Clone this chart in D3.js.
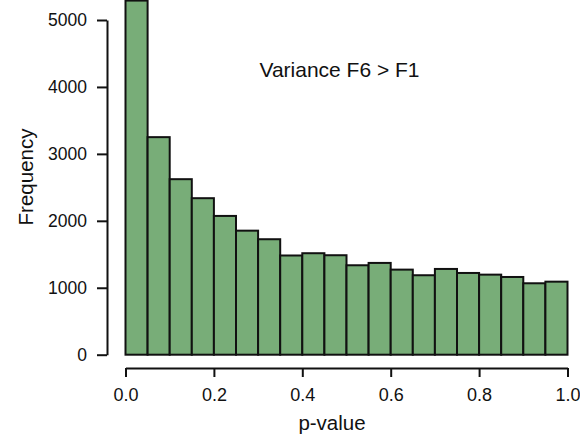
<!DOCTYPE html>
<html>
<head>
<meta charset="utf-8">
<script src="https://cdn.jsdelivr.net/npm/d3@7"></script>
<style>
  body { margin: 0; background: #fff; }
  svg text { font-family: "Liberation Sans", Arial, sans-serif; fill: #111; }
</style>
</head>
<body>
<div class="chartwrap"></div>
<script>
var width = 580, height = 435;

// histogram bins (p-value, width 0.05) and counts
var binStarts = [0.00, 0.05, 0.10, 0.15, 0.20, 0.25, 0.30, 0.35, 0.40, 0.45,
                 0.50, 0.55, 0.60, 0.65, 0.70, 0.75, 0.80, 0.85, 0.90, 0.95];
var counts = [5290, 3250, 2622, 2338, 2073, 1853, 1725, 1482, 1516, 1486,
              1336, 1371, 1271, 1187, 1281, 1221, 1196, 1161, 1067, 1091];
var binWidth = 0.05;
var xTicks = [0, 0.2, 0.4, 0.6, 0.8, 1.0];
var yTicks = [0, 1000, 2000, 3000, 4000, 5000];
var title = "Variance F6 > F1";

var svg = d3.select(".chartwrap").append("svg")
    .attr("width", width)
    .attr("height", height);

var x = d3.scaleLinear().domain([0, 1]).range([125.5, 567.5]);
var y = d3.scaleLinear().domain([0, 5000]).range([354.7, 20]);

// bars
svg.append("g")
    .selectAll("rect")
    .data(counts)
    .enter().append("rect")
    .attr("x", function(d, i) { return x(binStarts[i]); })
    .attr("y", function(d) { return y(d); })
    .attr("width", function(d, i) { return x(binStarts[i] + binWidth) - x(binStarts[i]); })
    .attr("height", function(d) { return y(0) - y(d); })
    .attr("fill", "#78ad78")
    .attr("stroke", "#111")
    .attr("stroke-width", 2);

// y axis
var yAxis = d3.axisLeft(y)
    .tickValues(yTicks)
    .tickFormat(d3.format("d"))
    .tickSize(10)
    .tickSizeOuter(0)
    .tickPadding(10);

var gy = svg.append("g")
    .attr("class", "y axis")
    .attr("transform", "translate(107,0)")
    .call(yAxis);
gy.select(".domain").attr("stroke", "#111").attr("stroke-width", 2);
gy.selectAll(".tick line").attr("stroke", "#111").attr("stroke-width", 2);
gy.selectAll(".tick text").style("font-size", "17.5px").attr("fill", "#111");

// x axis
var xAxis = d3.axisBottom(x)
    .tickValues(xTicks)
    .tickFormat(d3.format(".1f"))
    .tickSize(9)
    .tickSizeOuter(0)
    .tickPadding(11);

var gx = svg.append("g")
    .attr("class", "x axis")
    .attr("transform", "translate(0,368)")
    .call(xAxis);
gx.select(".domain").attr("stroke", "#111").attr("stroke-width", 2);
gx.selectAll(".tick line").attr("stroke", "#111").attr("stroke-width", 2);
gx.selectAll(".tick text").style("font-size", "18px").attr("fill", "#111");

// labels
svg.append("text")
    .attr("x", 332)
    .attr("y", 430)
    .style("text-anchor", "middle")
    .style("font-size", "20.5px")
    .text("p-value");

svg.append("text")
    .attr("transform", "translate(32.5,177) rotate(-90)")
    .style("text-anchor", "middle")
    .style("font-size", "20.5px")
    .text("Frequency");

svg.append("text")
    .attr("x", 339.5)
    .attr("y", 77.3)
    .style("text-anchor", "middle")
    .style("font-size", "21px")
    .text(title);
</script>
</body>
</html>
